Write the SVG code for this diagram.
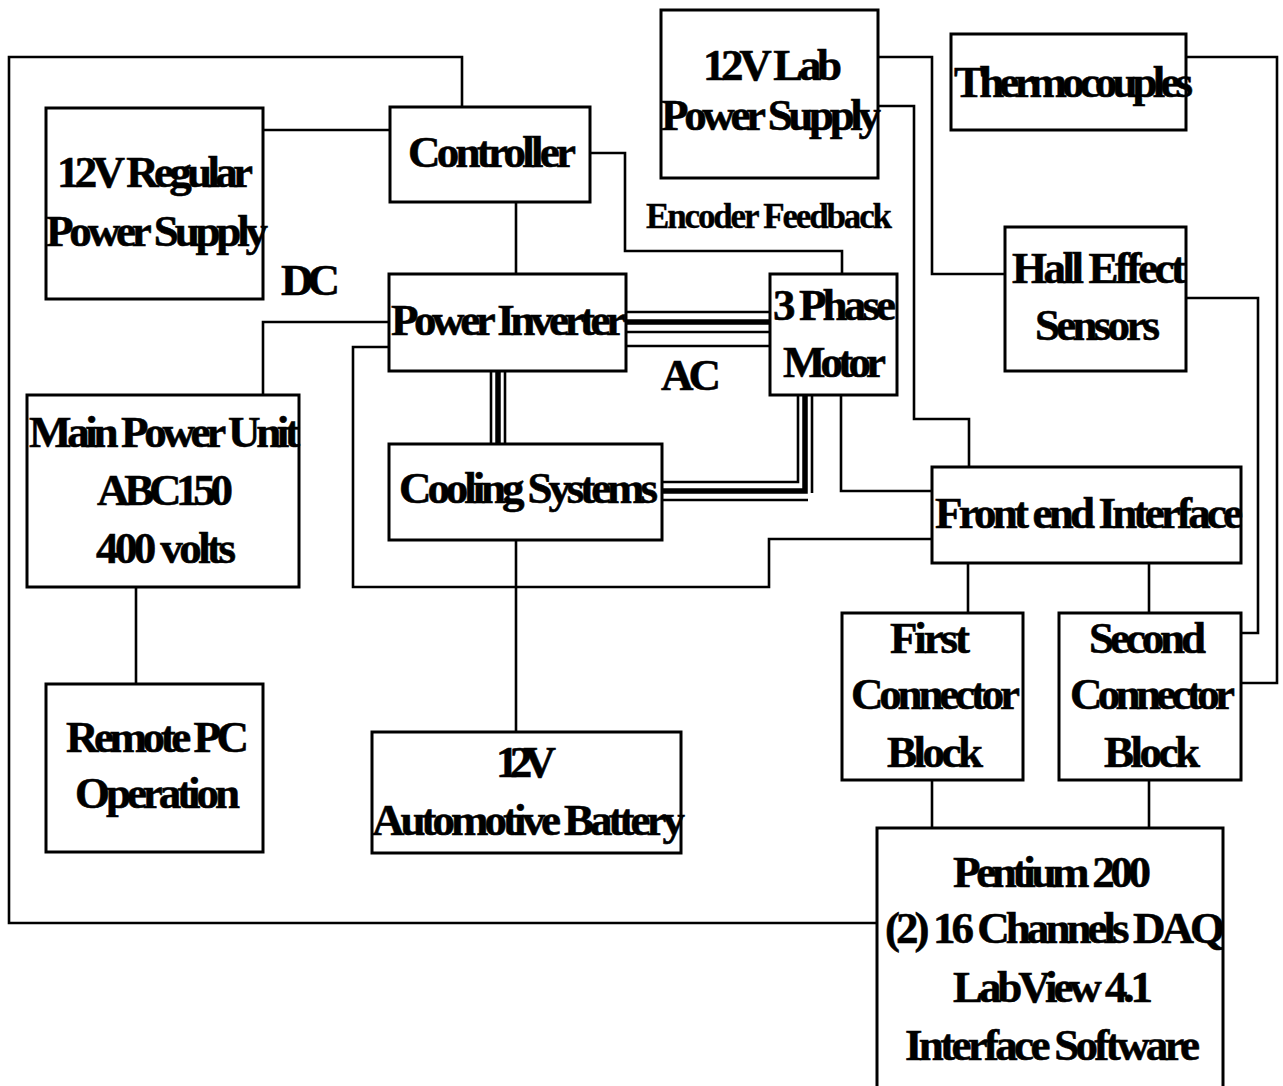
<svg xmlns="http://www.w3.org/2000/svg" width="1283" height="1086" viewBox="0 0 1283 1086">
<style>
.box{fill:#fff;stroke:#000;stroke-width:3}
.ln{fill:none;stroke:#000;stroke-width:2.6;stroke-linejoin:miter}
.thk{fill:none;stroke:#000;stroke-width:5.5;stroke-linecap:round}
text{font-family:"Liberation Serif","Times New Roman",serif;font-weight:bold;font-size:45px;fill:#000;stroke:#000;stroke-width:0.6}
.sm{font-size:35px;stroke-width:0.4}
</style>
<rect width="1283" height="1086" fill="#fff"/>
<g id="connectors">
<polyline class="ln" points="462,107 462,57 9,57 9,923 877,923"/>
<polyline class="ln" points="263,130 390,130"/>
<polyline class="ln" points="516,202 516,274"/>
<polyline class="ln" points="590,153 625,153 625,251 842,251 842,274"/>
<polyline class="ln" points="263,395 263,322 389,322"/>
<polyline class="ln" points="389,347 353,347 353,587 769,587 769,539 932,539"/>
<polyline class="ln" points="136,587 136,684"/>
<polyline class="ln" points="516,540 516,732"/>
<polyline class="ln" points="878,57 932,57 932,274 1005,274"/>
<polyline class="ln" points="878,106 914,106 914,419 969,419 969,467"/>
<polyline class="ln" points="1186,57 1277,57 1277,683 1241,683"/>
<polyline class="ln" points="1186,298 1258,298 1258,633 1241,633"/>
<polyline class="ln" points="841,395 841,491 932,491"/>
<polyline class="ln" points="968,563 968,613"/>
<polyline class="ln" points="1149,563 1149,613"/>
<polyline class="ln" points="932,780 932,828"/>
<polyline class="ln" points="1149,780 1149,828"/>
<polyline class="ln" points="626,312 770,312"/>
<polyline class="thk" points="626,322 770,322"/>
<polyline class="ln" points="626,332 770,332"/>
<polyline class="ln" points="626,346 770,346"/>
<polyline class="ln" points="491,371 491,444"/>
<polyline class="thk" points="498,371 498,444"/>
<polyline class="ln" points="505,371 505,444"/>
<polyline class="ln" points="662,482 798,482 798,395"/>
<polyline class="thk" points="662,491 805,491 805,395"/>
<polyline class="ln" points="662,500 808,500"/>
<polyline class="ln" points="812,395 812,493"/>
</g>
<g id="regular-ps"><rect class="box" x="46" y="108" width="217" height="191"/>
<text x="57" y="187" textLength="196" lengthAdjust="spacing">12V Regular</text>
<text x="46" y="246" textLength="222" lengthAdjust="spacing">Power Supply</text></g>
<g id="controller"><rect class="box" x="390" y="107" width="200" height="95"/>
<text x="408" y="167" textLength="168" lengthAdjust="spacing">Controller</text></g>
<g id="lab-ps"><rect class="box" x="661" y="10" width="217" height="168"/>
<text x="703" y="80" textLength="139" lengthAdjust="spacing">12V Lab</text>
<text x="661" y="130" textLength="220" lengthAdjust="spacing">Power Supply</text></g>
<g id="thermocouples"><rect class="box" x="951" y="34" width="235" height="96"/>
<text x="954" y="97" textLength="239" lengthAdjust="spacing">Thermocouples</text></g>
<g id="encoder-label"><text class="sm" x="646" y="228" textLength="246" lengthAdjust="spacing">Encoder Feedback</text></g>
<g id="dc-label"><text x="281" y="295" textLength="59" lengthAdjust="spacing">DC</text></g>
<g id="ac-label"><text x="661" y="390" textLength="60" lengthAdjust="spacing">AC</text></g>
<g id="inverter"><rect class="box" x="389" y="274" width="237" height="97"/>
<text x="391" y="335" textLength="235" lengthAdjust="spacing">Power Inverter</text></g>
<g id="motor"><rect class="box" x="770" y="274" width="127" height="121"/>
<text x="773" y="320" textLength="123" lengthAdjust="spacing">3 Phase</text>
<text x="783" y="377" textLength="103" lengthAdjust="spacing">Motor</text></g>
<g id="hall"><rect class="box" x="1005" y="227" width="181" height="144"/>
<text x="1012" y="283" textLength="174" lengthAdjust="spacing">Hall Effect</text>
<text x="1035" y="340" textLength="125" lengthAdjust="spacing">Sensors</text></g>
<g id="main-power"><rect class="box" x="27" y="395" width="272" height="192"/>
<text x="29" y="447" textLength="271" lengthAdjust="spacing">Main Power Unit</text>
<text x="97" y="505" textLength="136" lengthAdjust="spacing">ABC150</text>
<text x="96" y="563" textLength="140" lengthAdjust="spacing">400 volts</text></g>
<g id="cooling"><rect class="box" x="389" y="444" width="273" height="96"/>
<text x="399" y="503" textLength="259" lengthAdjust="spacing">Cooling Systems</text></g>
<g id="front-end"><rect class="box" x="932" y="467" width="309" height="96"/>
<text x="935" y="528" textLength="308" lengthAdjust="spacing">Front end Interface</text></g>
<g id="first-block"><rect class="box" x="842" y="613" width="181" height="167"/>
<text x="890" y="653" textLength="80" lengthAdjust="spacing">First</text>
<text x="851" y="709" textLength="169" lengthAdjust="spacing">Connector</text>
<text x="887" y="767" textLength="96" lengthAdjust="spacing">Block</text></g>
<g id="second-block"><rect class="box" x="1059" y="613" width="182" height="167"/>
<text x="1089" y="653" textLength="117" lengthAdjust="spacing">Second</text>
<text x="1070" y="709" textLength="165" lengthAdjust="spacing">Connector</text>
<text x="1104" y="767" textLength="96" lengthAdjust="spacing">Block</text></g>
<g id="remote-pc"><rect class="box" x="46" y="684" width="217" height="168"/>
<text x="66" y="752" textLength="183" lengthAdjust="spacing">Remote PC</text>
<text x="75" y="808" textLength="165" lengthAdjust="spacing">Operation</text></g>
<g id="battery"><rect class="box" x="372" y="732" width="309" height="121"/>
<text x="496" y="777" textLength="60" lengthAdjust="spacing">12V</text>
<text x="372" y="835" textLength="313" lengthAdjust="spacing">Automotive Battery</text></g>
<g id="pentium"><rect class="box" x="877" y="828" width="346" height="270"/>
<text x="953" y="887" textLength="198" lengthAdjust="spacing">Pentium 200</text>
<text x="885" y="943" textLength="340" lengthAdjust="spacing">(2) 16 Channels DAQ</text>
<text x="953" y="1002" textLength="200" lengthAdjust="spacing">LabView 4.1</text>
<text x="905" y="1060" textLength="295" lengthAdjust="spacing">Interface Software</text></g>
</svg>
